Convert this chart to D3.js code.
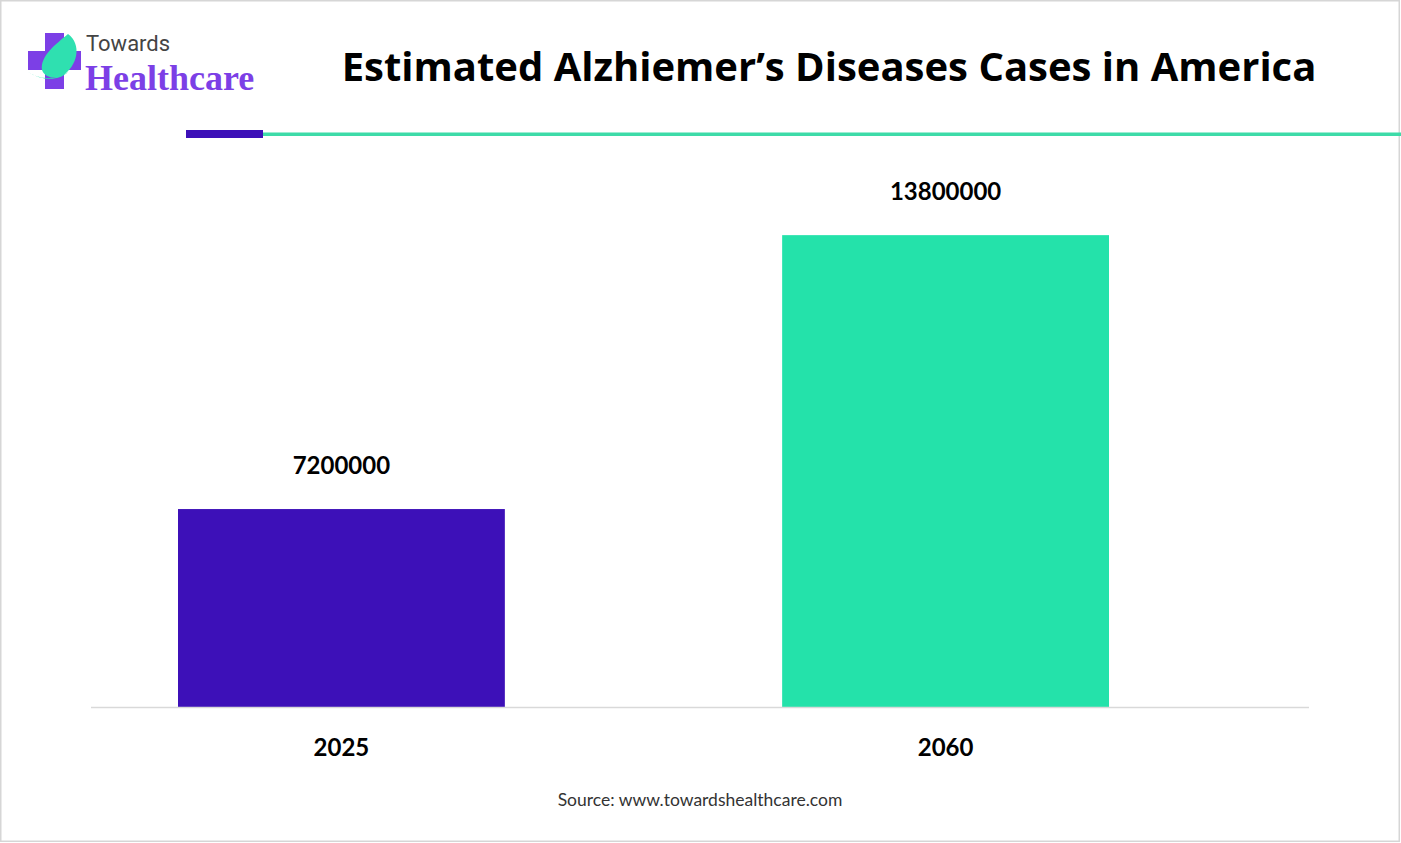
<!DOCTYPE html>
<html>
<head>
<meta charset="utf-8">
<script src="https://cdn.jsdelivr.net/npm/d3@7"></script>
<style>
  body { margin: 0; background: #fff; }
  svg { display: block; }
</style>
</head>
<body>
<script>
const years = ["2025", "2060"]
const cases = [7200000, 13800000]
const barColors = ["#3d10b8", "#24e2aa"]

const w = 1401 // svg width
const h = 843 // svg height
const base = 707 // baseline of bars

const svg = d3.select("body")
              .append("svg")
              .attr("width", w)
              .attr("height", h)

// light frame round the picture
svg.append("rect")
   .attr("x", 0.75).attr("y", 0.75)
   .attr("width", w - 2.5).attr("height", h - 2.5)
   .attr("fill", "#fff")
   .attr("stroke", "#d6d6d6")
   .attr("stroke-width", 1.5)

// logo: plus sign with leaf
const logo = svg.append("g")
logo.append("rect").attr("x", 45).attr("y", 33).attr("width", 19).attr("height", 56).attr("fill", "#7c3fe6")
logo.append("rect").attr("x", 28).attr("y", 51).attr("width", 53).attr("height", 19).attr("fill", "#7c3fe6")
logo.append("path")
    .attr("d", "M68,34 C82,44 78,66 62,76 C52,80 44,76 42,70 C40,56 56,44 68,34 Z")
    .attr("fill", "#2fe0b0")
logo.append("path")
    .attr("d", "M28,72 C40,80 56,80 68,72 C60,80 44,82 28,72 Z")
    .attr("fill", "#2fe0b0")
logo.append("text")
    .attr("x", 86).attr("y", 51)
    .attr("fill", "#444")
    .style("font-family", "Roboto")
    .style("font-size", "22px")
    .text("Towards")
logo.append("text")
    .attr("x", 85).attr("y", 90)
    .attr("fill", "#7c3fe6")
    .style("font-family", "Liberation Serif")
    .style("font-weight", "bold")
    .style("font-size", "36px")
    .text("Healthcare")

// title
svg.append("text")
   .attr("x", 829).attr("y", 81)
   .attr("text-anchor", "middle")
   .attr("fill", "#000")
   .style("font-family", "Open Sans")
   .style("font-weight", "bold")
   .style("font-size", "40px")
   .text("Estimated Alzhiemer\u2019s Diseases Cases in America")

// decorative rule under the title
svg.append("rect").attr("x", 263).attr("y", 132.5).attr("width", w - 263).attr("height", 3.5).attr("fill", "#3ddba8")
svg.append("rect").attr("x", 186).attr("y", 130).attr("width", 77).attr("height", 8).attr("fill", "#3d10b8")

// scales
const x = d3.scaleBand()
            .domain(years)
            .range([91, 1196])
            .paddingInner(0.459)
            .paddingOuter(0.144)

const y = d3.scaleLinear()
            .domain([2430000, 15000000])
            .range([base, base - 12.57 * 41.5])

// bars
svg.selectAll("rect.bar")
   .data(cases)
   .enter()
   .append("rect")
   .attr("class", "bar")
   .attr("x", (d, i) => x(years[i]))
   .attr("y", d => y(d))
   .attr("width", x.bandwidth())
   .attr("height", d => base - y(d))
   .attr("fill", (d, i) => barColors[i])

// baseline
svg.append("line")
   .attr("x1", 91).attr("x2", 1309)
   .attr("y1", base + 0.5).attr("y2", base + 0.5)
   .attr("stroke", "#d9d9d9")
   .attr("stroke-width", 1.5)

// value labels
svg.selectAll("text.val")
   .data(cases)
   .enter()
   .append("text")
   .attr("class", "val")
   .attr("x", (d, i) => x(years[i]) + x.bandwidth() / 2)
   .attr("y", d => y(d) - 35)
   .attr("text-anchor", "middle")
   .attr("fill", "#000")
   .style("font-family", "Lato")
   .style("font-weight", "bold")
   .style("font-size", "24px")
   .text(d => d)

// category labels
svg.selectAll("text.cat")
   .data(years)
   .enter()
   .append("text")
   .attr("class", "cat")
   .attr("x", d => x(d) + x.bandwidth() / 2)
   .attr("y", 756)
   .attr("text-anchor", "middle")
   .attr("fill", "#000")
   .style("font-family", "Lato")
   .style("font-weight", "bold")
   .style("font-size", "24px")
   .text(d => d)

// source
svg.append("text")
   .attr("x", 700).attr("y", 806)
   .attr("text-anchor", "middle")
   .attr("fill", "#333")
   .style("font-family", "Lato")
   .style("font-size", "17.5px")
   .text("Source: www.towardshealthcare.com")
</script>
</body>
</html>
